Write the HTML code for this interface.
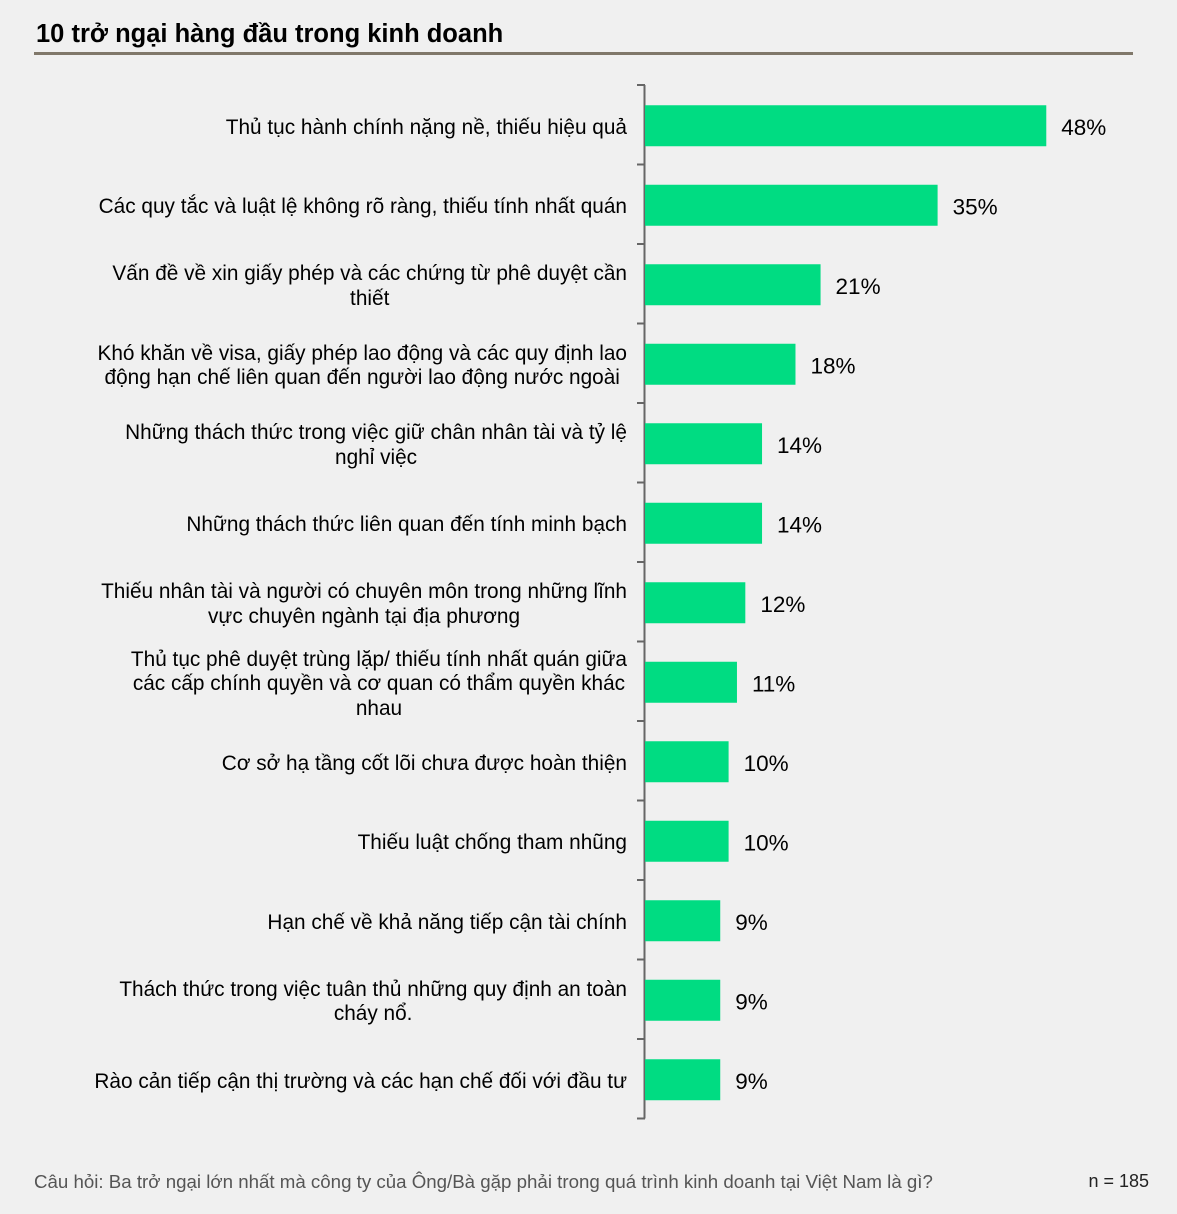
<!DOCTYPE html>
<html><head><meta charset="utf-8">
<style>
body{margin:0;width:1177px;height:1214px;background:#f0f0f0;font-family:"Liberation Sans","Noto Sans CJK SC",sans-serif;position:relative;overflow:hidden}
#title{position:absolute;left:36px;top:20px;font-size:25.5px;font-weight:bold;color:#000}
#rule{position:absolute;left:34px;top:52px;width:1099px;height:3px;background:#80786a}
.lab{position:absolute;right:550px;width:600px;text-align:right;font-size:20.8px;line-height:24.5px;color:#000}
.lab span{display:inline-block;text-align:center}
#foot{position:absolute;left:34px;top:1171px;font-size:18.7px;color:#555}
#n{position:absolute;right:28px;top:1171px;font-size:18px;color:#222}
</style></head><body>
<div id="title">10 trở ngại hàng đầu trong kinh doanh</div>
<div id="rule"></div>
<svg id="chart" width="1177" height="1214" style="position:absolute;left:0;top:0"></svg>
<div id="labels"></div>
<div id="foot">Câu hỏi: Ba trở ngại lớn nhất mà công ty của Ông/Bà gặp phải trong quá trình kinh doanh tại Việt Nam là gì?</div>
<div id="n">n = 185</div>
<script>
const categories=["Thủ tục hành chính nặng nề, thiếu hiệu quả","Các quy tắc và luật lệ không rõ ràng, thiếu tính nhất quán","Vấn đề về xin giấy phép và các chứng từ phê duyệt cần<br>thiết","Khó khăn về visa, giấy phép lao động và các quy định lao<br>động hạn chế liên quan đến người lao động nước ngoài","Những thách thức trong việc giữ chân nhân tài và tỷ lệ<br>nghỉ việc","Những thách thức liên quan đến tính minh bạch","Thiếu nhân tài và người có chuyên môn trong những lĩnh<br>vực chuyên ngành tại địa phương","Thủ tục phê duyệt trùng lặp/ thiếu tính nhất quán giữa<br>các cấp chính quyền và cơ quan có thẩm quyền khác<br>nhau","Cơ sở hạ tầng cốt lõi chưa được hoàn thiện","Thiếu luật chống tham nhũng","Hạn chế về khả năng tiếp cận tài chính","Thách thức trong việc tuân thủ những quy định an toàn<br>cháy nổ.","Rào cản tiếp cận thị trường và các hạn chế đối với đầu tư"];
const values=[48,35,21,18,14,14,12,11,10,10,9,9,9];
const valueLabels=["48%","35%","21%","18%","14%","14%","12%","11%","10%","10%","9%","9%","9%"];
const NS="http://www.w3.org/2000/svg";
const svg=document.getElementById('chart');
const x0=645,pxPer=8.36,top0=85,band=79.5,bh=41;
const xs=v=>x0+v*pxPer;
const yc=i=>top0+band*(i+0.5);
function mk(t,a){const e=document.createElementNS(NS,t);for(const k in a)e.setAttribute(k,a[k]);svg.appendChild(e);return e;}
const ax=mk('line',{x1:x0-0.5,y1:top0,x2:x0-0.5,y2:top0+band*categories.length,stroke:'#666','stroke-width':2});


for(let i=0;i<=categories.length;i++){
  const t=mk('line',{x1:x0-8,x2:x0,y1:top0+band*i,y2:top0+band*i,stroke:'#666','stroke-width':2});
  
  
}
const labs=document.getElementById('labels');
categories.forEach((c,i)=>{
  const r=mk('rect',{x:x0,y:yc(i)-bh/2+1,width:xs(values[i])-x0,height:bh,fill:'#00dc82'});
  
  
  const t=mk('text',{x:xs(values[i])+15,y:yc(i)+10,'font-size':22.5,fill:'#000','font-family':'Liberation Sans, sans-serif'});
  t.textContent=valueLabels[i];
  
  
  const d=document.createElement('div');
  d.className='lab';
  const lines=c.split('<br>').length;
  d.style.top=(yc(i)+3-lines*24.5/2)+'px';
  d.innerHTML='<span>'+c+'</span>';
  
  
  labs.appendChild(d);
});
</script>
</body></html>
